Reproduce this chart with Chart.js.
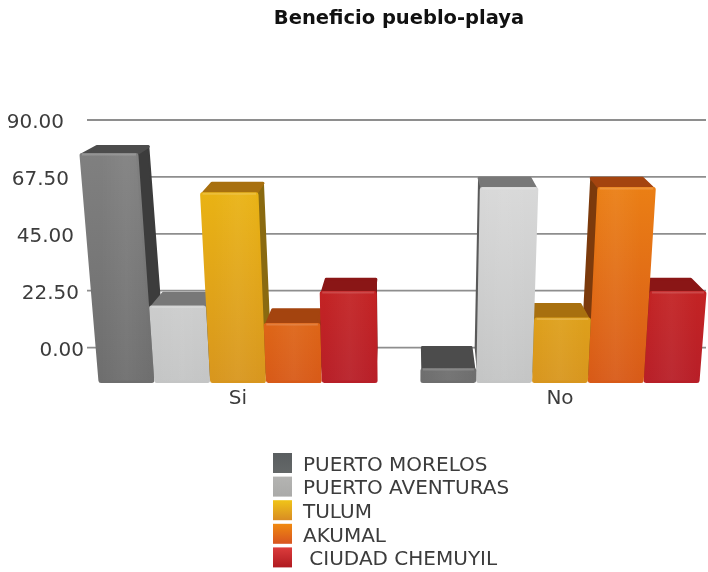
<!DOCTYPE html>
<html>
<head>
<meta charset="utf-8">
<style>
  html, body { margin: 0; padding: 0; background: #fff; overflow: hidden; }
  canvas { display: block; }
</style>
<script src="https://cdn.jsdelivr.net/npm/chart.js@4"></script>
</head>
<body>
<!-- el eje x del original sigue más allá del borde derecho, por eso el canvas es algo más ancho -->
<canvas id="chart" width="721" height="572"></canvas>
<script>
const categories = ['Si', 'No']
const seriesNames = ['PUERTO MORELOS', 'PUERTO AVENTURAS', 'TULUM', 'AKUMAL', ' CIUDAD CHEMUYIL']

const puertoMorelos = [79.5, 0]
const puertoAventuras = [21.5, 67]
const tulum = [65, 17]
const akumal = [15, 67]
const chemuyil = [27, 27]
const seriesValues = [puertoMorelos, puertoAventuras, tulum, akumal, chemuyil]

const tickValues = [0, 22.5, 45, 67.5, 90]

// colores de cada cara de la barra
const frontTop = ['#808080', '#dcdcdc', '#edb912', '#ee8614', '#d42a1e']
const frontBottom = ['#6e6e6e', '#c4c5c5', '#d8961e', '#d85a18', '#b81f28']
const topFace = ['#4c4c4c', '#787878', '#a8700f', '#a4440f', '#8a1616']
const sideFace = ['#3c3c3c', '#5a5a5a', '#8a6a10', '#7c3a0c', '#7c1414']
const swatchTop = ['#5a5e60', '#b4b4b2', '#f0c418', '#f08a10', '#dc3c3c']
const swatchBottom = ['#646868', '#aaaaa8', '#d88c24', '#d85420', '#b01a20']

const FLOOR = -14       // valor del piso, por debajo del 0 de la pared
const VP = 410          // punto de fuga horizontal
const LEAN = 0.00027    // inclinación de las barras
const BACK = 0.955      // la cara trasera se encoge hacia el punto de fuga
const FONT = '"DejaVu Sans", Verdana, sans-serif'

const lean = (x, h) => VP + (x - VP) * (1 + LEAN * h)
const toBack = x => VP + (x - VP) * BACK

// profundidad de la cara superior, se ve más cuanto más baja está la barra
function topDepth(y) {
  const t = Math.max(0, Math.min(1, (y - 147) / 200))
  return 8 + 6 * Math.sqrt(t) + 8 * Math.pow(t, 8)
}

function poly(ctx, pts, fill, round) {
  ctx.beginPath()
  pts.forEach((p, i) => i ? ctx.lineTo(p[0], p[1]) : ctx.moveTo(p[0], p[1]))
  ctx.closePath()
  ctx.fillStyle = fill
  ctx.strokeStyle = fill
  ctx.lineWidth = round || 1
  ctx.lineJoin = 'round'
  ctx.fill()
  ctx.stroke()
}

function drawBar(ctx, bar, s, zeroY) {
  const l = bar.x - bar.width / 2 + 2.5
  const r = bar.x + bar.width / 2 - 2.5
  const baseY = bar.base - 2.5
  const backY = bar.y
  const frontY = backY + topDepth(backY)
  const h = baseY - frontY
  const tl = lean(l, h), tr = lean(r, h)
  const floorEdge = bar.x < VP ? r : l
  const topEdge = bar.x < VP ? tr : tl

  // lateral, hacia el punto de fuga
  poly(ctx, [[topEdge, frontY], [toBack(topEdge), backY], [toBack(floorEdge), zeroY], [floorEdge, baseY]], sideFace[s], 2)
  // cara superior
  poly(ctx, [[tl, frontY], [toBack(tl), backY], [toBack(tr), backY], [tr, frontY]], topFace[s], 3)

  // frente
  const v = ctx.createLinearGradient(0, 150, 0, bar.base)
  v.addColorStop(0, frontTop[s])
  v.addColorStop(1, frontBottom[s])
  poly(ctx, [[tl, frontY + 1], [tr, frontY + 1], [r, baseY], [l, baseY]], v, 5)

  // brillo metálico suave en el centro
  const g = ctx.createLinearGradient(l, 0, r, 0)
  g.addColorStop(0, 'rgba(255,255,255,0)')
  g.addColorStop(0.5, 'rgba(255,255,255,0.05)')
  g.addColorStop(1, 'rgba(255,255,255,0)')
  ctx.beginPath()
  ctx.moveTo(tl, frontY); ctx.lineTo(tr, frontY); ctx.lineTo(r, baseY); ctx.lineTo(l, baseY)
  ctx.closePath()
  ctx.fillStyle = g
  ctx.fill()
  ctx.beginPath()
  ctx.moveTo(tl, frontY); ctx.lineTo(tr, frontY)
  ctx.strokeStyle = 'rgba(255,255,255,0.16)'
  ctx.lineWidth = 2
  ctx.stroke()
}

const bars3d = {
  id: 'bars3d',
  beforeDatasetDraw() {
    return false  // las barras se pintan abajo, con sus tres caras
  },
  beforeDatasetsDraw(chart) {
    const ctx = chart.ctx
    const y = chart.scales.y
    ctx.save()

    // pared del fondo
    y.ticks.forEach(t => {
      const py = y.getPixelForValue(t.value)
      ctx.beginPath()
      ctx.moveTo(87, py)
      ctx.lineTo(706, py)
      ctx.strokeStyle = '#8e8e8e'
      ctx.lineWidth = 1.8
      ctx.stroke()

      ctx.fillStyle = '#3c3c3c'
      ctx.font = '20px ' + FONT
      ctx.textAlign = 'right'
      ctx.textBaseline = 'middle'
      ctx.fillText(t.value.toFixed(2), 64 + (py - 120) * 0.088, py + 3)
    })

    // de afuera hacia el punto de fuga para que se tapen bien
    const items = []
    chart.data.datasets.forEach((ds, s) => {
      chart.getDatasetMeta(s).data.forEach(bar => items.push({ bar, s }))
    })
    items.sort((a, b) => Math.abs(b.bar.x - VP) - Math.abs(a.bar.x - VP))
    items.forEach(it => drawBar(ctx, it.bar, it.s, y.getPixelForValue(0)))

    ctx.restore()
  },
  afterDraw(chart) {
    const ctx = chart.ctx
    ctx.save()
    ctx.font = '20px ' + FONT
    ctx.textAlign = 'left'
    ctx.textBaseline = 'middle'
    chart.data.datasets.forEach((ds, s) => {
      const top = 453 + s * 23.6
      const g = ctx.createLinearGradient(0, top, 0, top + 20)
      g.addColorStop(0, swatchTop[s])
      g.addColorStop(1, swatchBottom[s])
      ctx.fillStyle = g
      ctx.fillRect(273, top, 19, 20)
      ctx.fillStyle = '#3c3c3c'
      ctx.fillText(ds.label, 303, top + 12.5)
    })
    ctx.restore()
  }
}

new Chart(document.getElementById('chart'), {
  type: 'bar',
  data: {
    labels: categories,
    datasets: seriesNames.map((name, s) => ({
      label: name,
      data: seriesValues[s],
      backgroundColor: frontTop[s],
      base: FLOOR
    }))
  },
  options: {
    responsive: false,
    animation: false,
    categoryPercentage: 0.867,
    barPercentage: 1,
    layout: { padding: { left: 0, right: 0, top: 0, bottom: 159 } },
    plugins: {
      legend: { display: false },
      tooltip: { enabled: false },
      title: {
        display: true,
        text: 'Beneficio pueblo-playa',
        fullSize: false,
        color: '#111',
        font: { family: FONT, size: 19.5, weight: 'bold' },
        padding: { top: 7, bottom: 89.6 }
      }
    },
    scales: {
      x: {
        grid: { display: false, drawTicks: false },
        border: { display: false },
        ticks: { color: '#3c3c3c', font: { family: FONT, size: 20 }, padding: 4 },
        afterFit(scale) { scale.height = 30 }
      },
      y: {
        min: FLOOR,
        max: 90,
        grid: { display: false },
        border: { display: false },
        ticks: { display: false },
        afterBuildTicks(scale) { scale.ticks = tickValues.map(value => ({ value })) },
        afterFit(scale) { scale.width = 77 }
      }
    }
  },
  plugins: [bars3d]
})
</script>
</body>
</html>
